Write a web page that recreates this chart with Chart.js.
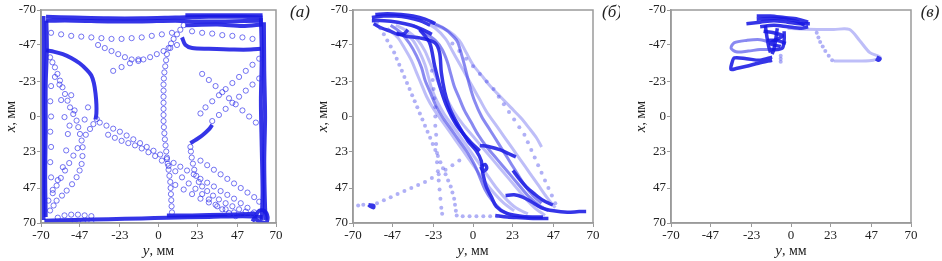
<!DOCTYPE html>
<html>
<head>
<meta charset="utf-8">
<script src="https://cdn.jsdelivr.net/npm/chart.js@4/dist/chart.umd.min.js"></script>
<style>
  body { margin: 0; background: #fff; width: 942px; height: 261px; position: relative; overflow: hidden; }
  .panel { position: absolute; top: 0; height: 261px; }
</style>
</head>
<body>
<div class="panel" style="left:0"><canvas id="chart-a" width="310" height="261"></canvas></div>
<div class="panel" style="left:310px"><canvas id="chart-b" width="310" height="261"></canvas></div>
<div class="panel" style="left:620px"><canvas id="chart-c" width="322" height="261"></canvas></div>
<script>
// tick values shared by all three panels (mm)
const tickValues = [-70, -47, -23, 0, 23, 47, 70];

// ---- panel (a): trajectories as [y, x] pairs in mm ----
// thick, densely sampled stretches
const aTop1 = [[-67,-65.5],[-50,-65],[-30,-64.5],[-10,-64.5],[10,-65],[30,-65.5],[50,-65.5],[62,-65]];
const aTop2 = [[-67,-63],[-50,-63],[-30,-62.5],[-10,-62.5],[10,-63],[20,-62.5],[40,-62.5],[62,-63]];
const aTop3 = [[16,-66.5],[35,-66.5],[62,-66.5]];
const aTop4 = [[16,-60],[35,-60.5],[50,-59.5],[62,-60.5]];
const aLeft1 = [[-68.5,-66],[-68.5,-40],[-68.8,-10],[-68.5,20],[-68.7,50],[-68.5,68]];
const aLeft2 = [[-66.8,-63],[-66.5,-45],[-67.2,-20],[-67.2,10],[-67.5,40],[-67.2,66]];
const aBottom1 = [[-68,68.5],[-50,68],[-30,67.5],[-10,67],[5,66.5],[30,66],[50,65.5],[62,66]];
const aBottom2 = [[5,65],[20,65],[40,64.5],[58,64]];
const aRight1 = [[61,-65],[61.5,-40],[61,-10],[61.5,20],[62,50],[61.5,68]];
const aRight2 = [[62.8,-62],[63,-30],[63.5,0],[63,30],[63.5,60],[64,68]];
const aMid = [[14,-52],[16,-47],[20,-45],[30,-44.5],[45,-44],[55,-44],[61,-44.5]];
const aCurveL = [[-67,-43.5],[-62,-42.5],[-57,-41],[-52,-38.5],[-47,-35],[-43,-31],[-40,-27],[-38.5,-22],[-37.5,-15],[-37,-8],[-37,-2],[-37.5,2]];
const aSeg = [[19,17.5],[22,15.5],[26,12.5],[30,8.5],[32,5.5]];
const aCorner = [[56,69],[58,65],[60,62],[63,62],[65,66],[64,70],[60,69],[57,67]];
// sparse open-circle stretches
const aDrop = [[15,-60],[13,-57],[11,-54],[9,-51],[7.5,-48],[6,-45],[5,-41],[4.5,-37],[4,-33],[3.5,-29],[3.2,-25],[3,-21],[3,-17],[3,-13],[3,-9],[3,-5],[3,-1],[3,3],[3.2,7],[3.5,11],[3.8,15],[4.2,19],[4.6,23],[5,27],[5.5,31],[6,35],[6.5,39],[7,43],[7.2,47],[7.4,51],[7.6,55],[7.8,59],[8,63]];
const aHook = [[19,20],[19.3,23],[19.8,27],[20.5,31],[21.3,35],[22.5,39],[24,43],[26,46],[29,49],[32.5,52],[36,54.5],[40,57],[44,59],[48,61],[52,62.5],[56,64]];
const aDiag1 = [[-35,4],[-31,6],[-27,8],[-23,10],[-19,12.5],[-15,15],[-11,17.5],[-7,20],[-3,22.5],[1,25],[5,28],[9,30.5],[13,33],[17,35.5],[21,38],[25,41],[29,43.5],[33,46],[37,49],[41,51.5],[45,54],[49,57],[53,60],[57,63]];
const aDiag2 = [[-30,12],[-26,14],[-22,16],[-18,17.5],[-14,19],[-10,21],[-6,23.5],[-2,26],[2,29],[6,32.5],[10,36],[14,40],[18,44],[22,47.5],[26,51],[30,54.5],[34,58],[38,61],[42,63.5],[46,65.5]];
const aLoop = [[-64.6,61.8],[-62.5,58.5],[-60.7,55.3],[-57.5,52],[-54.7,48.7],[-51.5,44.5],[-48.8,39.9],[-47,35.5],[-45.8,31.2],[-45.3,26],[-45.2,20.2],[-45.8,15.8],[-46.8,11.5],[-47.8,7],[-48.8,2.7],[-50.8,-1.6],[-52.7,-6],[-54.2,-10.4],[-55.7,-14.8],[-57.2,-19.2],[-58.7,-23.6],[-60.2,-28],[-61.7,-32.3],[-63.2,-35.6],[-64.6,-38.9]];
const aCross = [[-65.6,55.3],[-63,50.4],[-60.7,45.4],[-58.2,40.4],[-55.7,35.5],[-53.2,30.6],[-50.7,25.7],[-48.2,20.8],[-43.3,12],[-40.8,8.2],[-38.8,5],[-36.8,1.6]];
const aInner = [[-61.7,-26],[-59,-21],[-58,-10.8],[-56,0.4],[-54,11.5],[-55,22.3],[-57,33.3],[-60,41.8],[-63,48.2],[-64,-20],[-64.5,-10],[-64,0],[-64.5,10],[-64,20],[-64.5,30],[-64,40],[-52,-14],[-50,-4],[-53,6],[-42,-6],[-44,2]];
const aRow = [[-64,-55],[-58,-54],[-52,-53],[-46,-52.5],[-40,-52],[-34,-51.5],[-28,-51],[-22,-51],[-16,-51.5],[-10,-52],[-4,-53],[2,-54],[8,-55]];
const aVee = [[-36,-47],[-32,-45],[-28,-43],[-24,-41],[-20,-39],[-16,-37.5],[-12,-36.5],[-9,-37.5],[-5,-39],[-1,-41],[3,-43],[7,-45],[11,-47]];
const aRise = [[-27,-30],[-22,-32.5],[-17,-35],[-12,-37.5]];
const aUpperR = [[20,-56],[26,-55],[32,-54.5],[38,-53.5],[44,-53],[50,-52],[56,-51]];
const aRightD1 = [[60,-38],[56,-34],[52,-30],[48,-26],[44,-22],[40,-18],[36,-14],[32,-10],[28,-6],[25,-2]];
const aRightD2 = [[60,-25],[56,-21],[52,-17],[48,-13],[44,-9],[40,-5],[36,-1],[32,3]];
const aRightD3 = [[26,-28],[30,-24],[34,-20],[38,-16],[42,-12],[46,-8],[50,-4],[54,0],[58,4]];
const aLowR1 = [[25,29],[29,32],[33,35],[37,38],[41,41],[45,44],[49,47],[53,50],[57,53],[60,56]];
const aLowR2 = [[10,45],[15,48],[20,51],[25,54],[30,56.5],[35,59],[40,61],[45,63],[50,64.5]];
const aLowL = [[-60,66.5],[-56,65],[-52,64.5],[-48,64.5],[-44,65],[-40,65.5],[-50,69],[-45,69.5],[-40,69.5]];

// ---- panel (б) ----
const bTop1 = [[-59,-65],[-52,-66],[-45,-66],[-38,-65],[-31,-63],[-25,-60]];
const bTop2 = [[-59,-63],[-52,-63],[-44,-62],[-36,-60],[-29,-57],[-24,-54]];
const bTop3 = [[-57,-67],[-50,-67.5],[-42,-67],[-35,-66],[-28,-64],[-22,-61]];
const bTop4 = [[-58,-61],[-53,-58],[-48,-56],[-44,-54],[-40,-54.5],[-38,-57]];
const bMain = [[-44.7,-54.9],[-38.9,-52.8],[-31.1,-51.7],[-22.4,-48.5],[-19.5,-42],[-18.5,-29.1],[-16.5,-16.2],[-13.6,-5.4],[-8.8,5.4],[-2.9,16.2],[1.9,22.6],[4.8,29.1],[5.8,37.7],[7.8,46.3],[10.7,52.8],[13.6,59.2],[19.4,63.5],[29.1,65.7],[40.8,66.1]];
const bSeg = [[4,19],[10,20],[16,22],[21,24.5],[25,26.5]];
const bTail = [[19,52],[24,51.5],[29,53],[34,56],[40,60],[47,62],[55,63],[62,62.5],[66,62.5]];
const bFloor = [[13,65],[20,66],[28,66.5],[36,67],[44,67]];
const bSide = [[23.3,35.5],[27,41],[31.1,46.3],[36,51],[40.8,55],[46.6,58.2]];
const bBlob = [[4.5,33],[7,31.5],[8,34],[6,36],[4.5,33]];
const bFoot = [[-61,58],[-58,58.5],[-58,60],[-60,59],[-61,58]];
const bInner = [[-31.1,-57.1],[-25.3,-48.5],[-22.4,-33.4],[-19.5,-20.5],[-15.6,-7.5],[-9.7,5.4],[-1.9,16.2],[3.9,22.6]];
// medium strands of the bundle
const bMid1 = [[-35,-60],[-28,-55],[-22,-50],[-18,-44],[-15,-36],[-13,-28],[-11,-20],[-8,-12],[-5,-4],[-1,4],[3,12],[8,20],[14,28],[20,36],[26,44],[32,52],[38,58],[44,62]];
const bMid2 = [[-25,-62],[-17,-58],[-11,-52],[-8.8,-48.5],[-6.5,-40],[-4.9,-33.4],[-2,-20.5],[1,-10],[5,0],[10,9],[15,18],[20,27],[25,36],[30,45],[35,52],[40,57]];
const bMid3 = [[-48,-60],[-42,-55],[-37,-48],[-33,-40],[-30,-32],[-28,-24],[-25,-16],[-22,-8],[-18,0],[-13,8],[-8,16],[-3,24],[1,32],[4,40],[7,48],[11,55],[16,61],[22,65]];
const bLight1 = [[-45,-60],[-38,-56],[-32,-50],[-28,-43],[-25,-35],[-22,-27],[-19,-19],[-15,-11],[-11,-3],[-6,5],[0,13],[6,21],[12,29],[18,37],[24,45],[30,53],[36,60],[42,65]];
const bLight2 = [[-30,-63],[-22,-58],[-16,-51],[-12,-43],[-8,-35],[-4,-27],[0,-19],[4,-11],[8,-3],[13,5],[18,13],[23,21],[28,29],[33,37],[38,45],[43,53],[48,60]];
const bLight3 = [[-22,-60],[-14,-56],[-8,-50],[-4,-42],[0,-34],[5,-27],[10,-20],[16,-13],[22,-6],[28,1],[33,8],[37,14],[40,20]];
const bLight4 = [[-40,-56],[-35,-50],[-31,-42],[-28,-34],[-26,-26],[-24,-18],[-21,-10],[-17,-2],[-12,6],[-7,14],[-2,22],[3,30],[8,38],[13,46],[19,54],[25,60],[32,64]];
const bLight5 = [[-50,-58],[-44,-52],[-40,-45],[-36,-37],[-33,-29],[-30,-21],[-27,-13],[-23,-5],[-18,3],[-13,11],[-8,19],[-3,27],[2,35],[7,43],[12,50],[18,57],[24,62]];
const bDots1 = [[-56,-62],[-54,-58],[-52,-54],[-50,-50],[-48,-46],[-46,-42],[-44.5,-38],[-43,-34],[-41.5,-30],[-40,-26],[-38.5,-22],[-37,-18],[-35.5,-14],[-34,-10],[-32.5,-6],[-31,-2],[-29.5,2],[-28,6],[-26.5,10],[-25,14],[-23.5,18],[-22,22],[-20.5,26],[-19,30],[-17.5,34],[-16,38],[-14.5,42],[-13,46],[-12,50],[-11,54],[-10.5,58],[-10,62],[-9.5,65],[-6,65.5],[-2,65.5],[2,65.5],[6,65.5],[10,65.5],[14,65.5]];
const bDots2 = [[-24,-30],[-23.5,-24],[-23,-18],[-22.5,-12],[-22,-6],[-22,0],[-22,6],[-21.5,12],[-21.5,18],[-21,24],[-21,30],[-20.5,36],[-20,42],[-19.5,48],[-19,54],[-18.5,60],[-18,64]];
const bDots3 = [[-67,58.5],[-64,58],[-56,57],[-52,55],[-48,53],[-44,51],[-40,49],[-36,47],[-32,45],[-28,43],[-24,40.5],[-20,38],[-16,35],[-12,32],[-8,29]];
const bDots4 = [[-12,-48],[-8,-43],[-4,-38],[0,-33],[4,-28],[8,-23],[12,-18],[15,-13],[18,-8],[21,-3],[24,2],[27,7],[30,12],[32,17],[34,22],[36,27],[38,32],[40,37],[42,42],[44,47],[46,52],[48,57]];

// ---- panel (в) ----
const cTop1 = [[-26,-61],[-18,-62],[-10,-63],[-2,-62],[5,-61],[11,-61]];
const cTop2 = [[-20,-66],[-12,-66],[-4,-65],[4,-64],[10,-62]];
const cTop3 = [[-18,-59],[-10,-60],[-2,-59],[6,-58],[10,-59]];
const cTop4 = [[-20,-64],[-8,-64.5],[2,-63],[8,-60]];
const cBlock1 = [[-15,-60],[-14,-52],[-13,-46],[-12,-42]];
const cBlock2 = [[-8,-58],[-9,-50],[-10,-44],[-11,-41]];
const cBlock3 = [[-4,-56],[-4,-50],[-5,-45],[-8,-44],[-12,-44]];
const cBlock4 = [[-14,-50],[-8,-50],[-3,-48]];
const cBlock5 = [[-16,-56],[-10,-55],[-5,-53],[-12,-48],[-6,-46]];
const cLoopLow = [[-11,-39],[-18,-37],[-26,-38],[-33,-38.5],[-34.5,-35],[-35,-31],[-32,-31.5],[-26,-33],[-19,-35],[-11,-37]];
const cEnd = [[50,-39],[52,-38],[51,-37],[49.5,-38]];
const cLoopUp = [[-10,-48],[-18,-50.5],[-26,-50],[-33,-48.5],[-35,-45],[-32,-42.5],[-25,-43],[-18,-44],[-12,-44]];
const cReturn = [[-2,-58],[5,-57.5],[15,-57.2],[25,-57.2],[34,-57.2],[40,-50],[46,-42],[52,-39],[48,-37],[40,-36.5],[32,-36.5],[25,-36.5]];
const cDots = [[24,-37],[22,-40],[20,-43],[18.5,-46],[17,-49],[16,-52],[15,-55],[-6,-40],[-6,-38],[-6,-36]];

const toXY = arr => arr.map(([h, v]) => ({ x: h, y: v }));

function dense(arr, w) {
  return { type: 'line', data: toXY(arr), borderColor: 'rgba(25,25,228,0.88)', borderWidth: w || 4,
           pointRadius: 0, tension: 0.3, fill: false };
}
function medium(arr) {
  return { type: 'line', data: toXY(arr), borderColor: 'rgba(40,40,230,0.55)', borderWidth: 3,
           pointRadius: 0, tension: 0.3, fill: false };
}
function light(arr) {
  return { type: 'line', data: toXY(arr), borderColor: 'rgba(70,70,235,0.35)', borderWidth: 3,
           pointRadius: 0, tension: 0.3, fill: false };
}
function rings(arr) {
  return { type: 'scatter', data: toXY(arr), pointRadius: 2.6, borderWidth: 1,
           borderColor: 'rgba(45,45,235,0.65)', backgroundColor: 'rgba(255,255,255,0)' };
}
function dots(arr) {
  return { type: 'scatter', data: toXY(arr), pointRadius: 2, borderWidth: 0,
           backgroundColor: 'rgba(80,80,235,0.45)' };
}

const serif = '"Liberation Serif", "Times New Roman", serif';

// box around the plot, axis titles and panel letter
const decor = {
  id: 'decor',
  afterDraw(chart, args, opts) {
    const { ctx, chartArea: a } = chart;
    ctx.save();
    ctx.strokeStyle = '#9a9a9a';
    ctx.lineWidth = 1.5;
    ctx.strokeRect(a.left, a.top, a.right - a.left, a.bottom - a.top);
    ctx.fillStyle = '#222';
    ctx.textBaseline = 'middle';
    const drawTitle = (letter, cx, cy) => {
      ctx.font = 'italic 15px ' + serif;
      const w1 = ctx.measureText(letter).width;
      ctx.font = '14px ' + serif;
      const w2 = ctx.measureText(', мм').width;
      const x = cx - (w1 + w2) / 2;
      ctx.textAlign = 'left';
      ctx.font = 'italic 15px ' + serif;
      ctx.fillText(letter, x, cy);
      ctx.font = '14px ' + serif;
      ctx.fillText(', мм', x + w1, cy);
    };
    drawTitle('y', (a.left + a.right) / 2, 251);
    ctx.save();
    ctx.translate(a.left - 30, (a.top + a.bottom) / 2);
    ctx.rotate(-Math.PI / 2);
    drawTitle('x', 0, 0);
    ctx.restore();
    ctx.font = 'italic 17px ' + serif;
    ctx.textAlign = 'center';
    ctx.fillText(opts.label, opts.labelX, 13);
    ctx.restore();
  }
};

function makeChart(id, datasets, axisWidth, padRight, label, labelX) {
  const tickFont = { family: serif, size: 13 };
  return new Chart(document.getElementById(id), {
    data: { datasets },
    options: {
      responsive: false,
      animation: false,
      layout: { padding: { top: 10, right: padRight, left: 0, bottom: 0 } },
      plugins: { legend: { display: false }, tooltip: { enabled: false },
                 decor: { label, labelX } },
      scales: {
        x: {
          type: 'linear', min: -70, max: 70,
          afterBuildTicks: s => { s.ticks = tickValues.map(v => ({ value: v })); },
          afterFit: s => { s.height = 38; },
          grid: { drawOnChartArea: false, tickLength: 4, color: '#9a9a9a' },
          border: { color: '#9a9a9a', width: 1.5 },
          ticks: { font: tickFont, color: '#222', padding: 1, autoSkip: false, maxRotation: 0 }
        },
        y: {
          type: 'linear', min: -70, max: 70, reverse: true,
          afterBuildTicks: s => { s.ticks = tickValues.map(v => ({ value: v })); },
          afterFit: s => { s.width = axisWidth; },
          grid: { drawOnChartArea: false, tickLength: 4, color: '#9a9a9a' },
          border: { color: '#9a9a9a', width: 1.5 },
          ticks: { font: tickFont, color: '#222', padding: 1, autoSkip: false }
        }
      }
    },
    plugins: [decor]
  });
}

makeChart('chart-a', [
  ...[aDrop, aHook, aDiag1, aDiag2, aLoop, aCross, aInner, aRow, aVee, aRise, aUpperR,
      aRightD1, aRightD2, aRightD3, aLowR1, aLowR2, aLowL].map(rings),
  ...[aTop1, aTop2, aTop3, aTop4, aLeft1, aLeft2, aBottom1, aBottom2, aRight1, aRight2,
      aMid, aCurveL, aSeg, aCorner].map(d => dense(d))
], 41, 34, '(a)', 300);

makeChart('chart-b', [
  ...[bLight1, bLight2, bLight3, bLight4, bLight5].map(light),
  ...[bMid1, bMid2, bMid3].map(medium),
  ...[bDots1, bDots2, bDots3, bDots4].map(dots),
  ...[bTop1, bTop2, bTop3, bTop4, bMain, bSeg, bTail, bFloor, bSide, bBlob, bFoot, bInner].map(d => dense(d, 3.5))
], 43, 27, '(б)', 302);

makeChart('chart-c', [
  light(cReturn),
  medium(cLoopUp),
  dots(cDots),
  ...[cTop1, cTop2, cTop3, cTop4, cBlock1, cBlock2, cBlock3, cBlock4, cBlock5, cLoopLow, cEnd].map(d => dense(d, 3.5))
], 51, 31, '(в)', 310);
</script>
</body>
</html>
